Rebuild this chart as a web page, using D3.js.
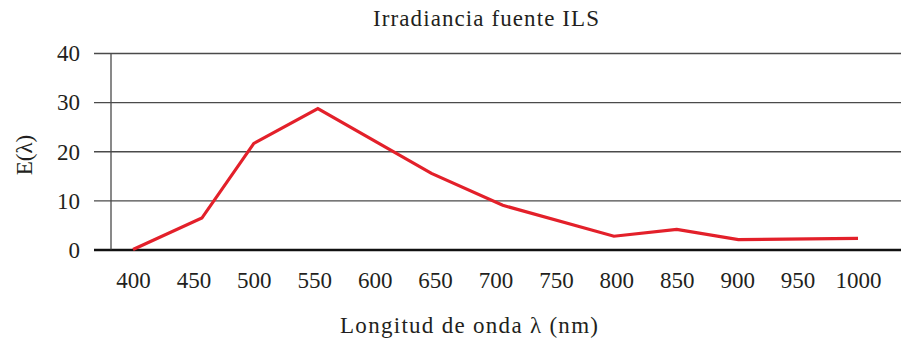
<!DOCTYPE html>
<html>
<head>
<meta charset="utf-8">
<script src="https://cdn.jsdelivr.net/npm/d3@7"></script>
<style>
  html, body { margin: 0; padding: 0; background: #fff; }
  svg text { font-family: "Liberation Serif", "DejaVu Serif", serif; fill: #231f20; }
</style>
</head>
<body>
<svg id="chart" width="903" height="343"></svg>
<script>
// Spectral irradiance of the ILS source
const wavelengths = [400, 457, 500, 553, 647, 706, 798, 850, 901, 1000];
const irradiance  = [0, 6.4, 21.6, 28.7, 15.5, 9.0, 2.7, 4.1, 2.0, 2.25];
const xTicks = [400, 450, 500, 550, 600, 650, 700, 750, 800, 850, 900, 950, 1000];
const yTicks = [0, 10, 20, 30, 40];

const title = "Irradiancia fuente ILS";
const xTitle = "Longitud de onda λ (nm)";
const yTitle = "E(λ)";

const svg = d3.select("#chart");

const x = d3.scaleLinear().domain([400, 1000]).range([133, 858]);
const y = d3.scaleLinear().domain([0, 40]).range([249.5, 53]);

const plotLeft = 111, plotRight = 901, gridLeft = 94;
const fontSize = 23;

// horizontal gridlines with labels
const yAxis = d3.axisLeft(y)
  .tickValues(yTicks)
  .tickSize(-(plotRight - gridLeft))
  .tickPadding(14)
  .tickFormat(d3.format("d"));

const gy = svg.append("g")
  .attr("transform", `translate(${gridLeft},0)`)
  .call(yAxis);
gy.select(".domain").remove();
gy.selectAll(".tick line")
  .attr("stroke", "#4a4a4a")
  .attr("stroke-width", 1.3);
gy.selectAll(".tick text")
  .attr("font-size", fontSize)
  .attr("dy", "0.34em")
  .attr("fill", "#231f20");
// zero line is drawn heavier
gy.selectAll(".tick").filter(d => d === 0).select("line")
  .attr("stroke", "#111")
  .attr("stroke-width", 2.6);

// vertical axis line
svg.append("line")
  .attr("x1", plotLeft).attr("x2", plotLeft)
  .attr("y1", y(40)).attr("y2", y(0))
  .attr("stroke", "#4a4a4a")
  .attr("stroke-width", 1.3);

// x tick labels
const xAxis = d3.axisBottom(x)
  .tickValues(xTicks)
  .tickSize(0)
  .tickPadding(22)
  .tickFormat(d3.format("d"));
const gx = svg.append("g")
  .attr("transform", `translate(0,${y(0)})`)
  .call(xAxis);
gx.select(".domain").remove();
gx.selectAll(".tick text")
  .attr("font-size", fontSize)
  .attr("fill", "#231f20");

// data line
const line = d3.line()
  .x((d, i) => x(wavelengths[i]))
  .y(d => y(d));

svg.append("path")
  .datum(irradiance)
  .attr("d", line)
  .attr("fill", "none")
  .attr("stroke", "#e3202a")
  .attr("stroke-width", 3.2)
  .attr("stroke-linejoin", "miter");

// titles
svg.append("text")
  .attr("x", 486).attr("y", 26)
  .attr("text-anchor", "middle")
  .attr("font-size", fontSize)
  .attr("textLength", 226)
  .attr("lengthAdjust", "spacing")
  .text(title);

svg.append("text")
  .attr("x", 469).attr("y", 333)
  .attr("text-anchor", "middle")
  .attr("font-size", fontSize)
  .attr("textLength", 258)
  .attr("lengthAdjust", "spacing")
  .text(xTitle);

svg.append("text")
  .attr("transform", "translate(32,155) rotate(-90)")
  .attr("text-anchor", "middle")
  .attr("font-size", fontSize)
  .text(yTitle);
</script>
</body>
</html>
